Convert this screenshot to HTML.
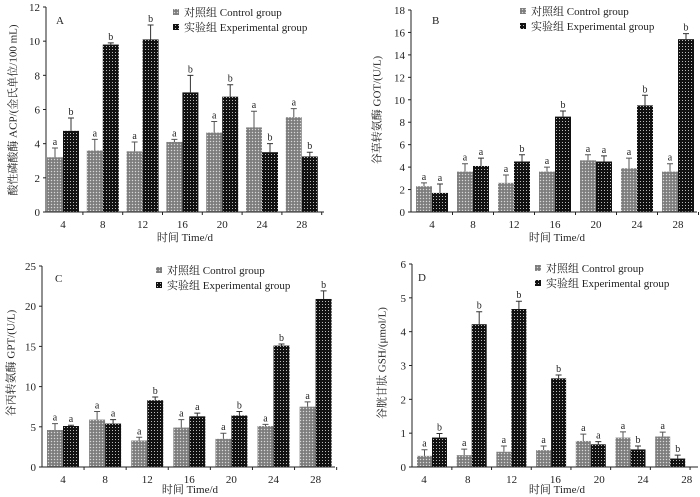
<!DOCTYPE html>
<html><head><meta charset="utf-8"><style>
body{margin:0;background:#fff}
svg{display:block}
text{font-family:"Liberation Serif","Noto Serif CJK SC",serif;fill:#222}
</style></head><body>
<svg id="c" width="700" height="497">
<defs>
<pattern id="pc" width="3" height="3" patternUnits="userSpaceOnUse"><rect width="3" height="3" fill="#8a8a8a"/><rect x="0" y="0" width="1" height="1" fill="#d8d8d8"/><rect x="1.5" y="1.5" width="1" height="1" fill="#555"/></pattern>
<pattern id="pe" width="3" height="3" patternUnits="userSpaceOnUse"><rect width="3" height="3" fill="#111"/><rect x="1" y="1" width="1" height="1" fill="#bbb"/></pattern>
</defs>
</svg>
<script>
const categories=["4","8","12","16","20","24","28"];
const aCtrl=[3.2,3.6,3.55,4.1,4.65,4.95,5.55];
const aCtrlErr=[0.55,0.65,0.55,0.15,0.65,0.95,0.5];
const aExp=[4.75,9.8,10.1,7.0,6.75,3.5,3.25];
const aExpErr=[0.75,0.1,0.85,1.0,0.7,0.5,0.25];
const aExpSig=["b","b","b","b","b","b","b"];
const bCtrl=[2.3,3.6,2.6,3.6,4.6,3.9,3.6];
const bCtrlErr=[0.3,0.7,0.7,0.4,0.5,0.9,0.7];
const bExp=[1.7,4.1,4.5,8.5,4.5,9.5,15.4];
const bExpErr=[0.8,0.7,0.6,0.5,0.5,0.9,0.5];
const bExpSig=["a","a","b","b","a","b","b"];
const cCtrl=[4.6,5.9,3.3,4.9,3.5,5.1,7.5];
const cCtrlErr=[0.8,1.0,0.4,1.0,0.7,0.2,0.6];
const cExp=[5.1,5.4,8.3,6.3,6.4,15.1,20.9];
const cExpErr=[0.1,0.5,0.4,0.4,0.5,0.2,1.0];
const cExpSig=["a","a","b","a","b","b","b"];
const dCtrl=[0.33,0.35,0.45,0.5,0.77,0.87,0.9];
const dCtrlErr=[0.18,0.18,0.17,0.12,0.2,0.17,0.13];
const dExp=[0.87,4.22,4.67,2.62,0.67,0.52,0.25];
const dExpErr=[0.12,0.37,0.23,0.1,0.08,0.1,0.1];
const dExpSig=["b","b","b","b","a","b","b"];
const aTicks=[0,2,4,6,8,10,12];
const bTicks=[0,2,4,6,8,10,12,14,16,18];
const cTicks=[0,5,10,15,20,25];
const dTicks=[0,1,2,3,4,5,6];

const svg=document.getElementById('c');
const NS='http://www.w3.org/2000/svg';
function mk(tag,at,parent,txt){const e=document.createElementNS(NS,tag);for(const k in at)e.setAttribute(k,at[k]);if(txt!==undefined)e.textContent=txt;(parent||svg).appendChild(e);return e;}

const panels=[
 {id:'a',L:'A',ctrl:aCtrl,ce:aCtrlErr,exp:aExp,ee:aExpErr,sig:aExpSig,ticks:aTicks,x0:46,x1:324,yTop:7,yBot:212,c0:63,step:39.8,lab0:63,labStep:39.8,bw:16,ytitle:'酸性磷酸酶 ACP/(金氏单位/100 mL)',tx:14,ty:110,lgx:176,lgy:12,letx:56,lety:24,xlx:185,xly:241},
 {id:'b',L:'B',ctrl:bCtrl,ce:bCtrlErr,exp:bExp,ee:bExpErr,sig:bExpSig,ticks:bTicks,x0:411,x1:697,yTop:10,yBot:212,c0:432,step:41,lab0:432,labStep:41,bw:16,ytitle:'谷草转氨酶 GOT/(U/L)',tx:378,ty:110,lgx:523,lgy:11,letx:432,lety:24,xlx:557,xly:241},
 {id:'c',L:'C',ctrl:cCtrl,ce:cCtrlErr,exp:cExp,ee:cExpErr,sig:cExpSig,ticks:cTicks,x0:42,x1:335,yTop:266,yBot:467,c0:63,step:42.1,lab0:63,labStep:42.1,bw:16,ytitle:'谷丙转氨酶 GPT/(U/L)',tx:12,ty:363,lgx:159,lgy:270,letx:55,lety:282,xlx:190,xly:493},
 {id:'d',L:'D',ctrl:dCtrl,ce:dCtrlErr,exp:dExp,ee:dExpErr,sig:dExpSig,ticks:dTicks,x0:412,x1:698,yTop:264,yBot:467,c0:432,step:39.7,lab0:424,labStep:43.8,bw:15,ytitle:'谷胱甘肽 GSH/(μmol/L)',tx:383,ty:363,lgx:538,lgy:268,letx:418,lety:281,xlx:557,xly:493}
];

panels.forEach(p=>{
 const g=mk('g',{});
 
 
 const max=p.ticks[p.ticks.length-1];
 const y=v=>p.yBot-(v/max)*(p.yBot-p.yTop);
 const cx=i=>p.c0+i*p.step;
 // bars
 categories.forEach((c,i)=>{
  [[p.ctrl,p.ce,'url(#pc)',-1,null],[p.exp,p.ee,'url(#pe)',1,p.sig]].forEach(([vals,errs,fill,side,sig],k)=>{
   const v=vals[i],e=errs[i];
   const bx=side<0?cx(i)-p.bw:cx(i);
   const r=mk('rect',{x:bx,y:y(v),width:p.bw,height:p.yBot-y(v),fill:fill},g);
   
   
   const mx=bx+p.bw/2;
   const eb=mk('path',{d:`M${mx} ${y(v)}V${y(v+e)}M${mx-3} ${y(v+e)}H${mx+3}`,stroke:k?'#333':'#555','stroke-width':1,fill:'none'},g);
   
   
   const t=mk('text',{x:mx,y:y(v+e)-3,'text-anchor':'middle','font-size':10},g,k?sig[i]:'a');
   
   
  });
  const tl=mk('text',{x:p.lab0+i*p.labStep,y:p.yBot+16,'text-anchor':'middle','font-size':11},g,c);
  
  
  mk('line',{x1:cx(i)+p.step/2,x2:cx(i)+p.step/2,y1:p.yBot,y2:p.yBot+3,stroke:'#222'},g);
 });
 // axes
 const ax=mk('path',{d:`M${p.x0} ${p.yTop}V${p.yBot}H${p.x1}`,stroke:'#222','stroke-width':1,fill:'none'},g);
 
 
 p.ticks.forEach(t=>{
  mk('line',{x1:p.x0-3,x2:p.x0,y1:y(t),y2:y(t),stroke:'#222'},g);
  const tt=mk('text',{x:p.x0-6,y:y(t)+4,'text-anchor':'end','font-size':11},g,t);
  
  
 });
 const yt=mk('text',{x:p.tx,y:p.ty,'text-anchor':'middle','font-size':11,transform:`rotate(-90 ${p.tx} ${p.ty})`,'dominant-baseline':'middle'},g,p.ytitle);
 
 
 const xt=mk('text',{x:p.xlx,y:p.xly,'text-anchor':'middle','font-size':11},g,'时间 Time/d');
 
 
 const pl=mk('text',{x:p.letx,y:p.lety,'font-size':11},g,p.L);
 
 
 [['url(#pc)','对照组 Control group'],['url(#pe)','实验组 Experimental group']].forEach(([f,label],k)=>{
  const lg=mk('g',{},g);
  
  
  mk('rect',{x:p.lgx-3,y:p.lgy+k*15-3,width:6,height:6,fill:f},lg);
  mk('text',{x:p.lgx+8,y:p.lgy+k*15+4,'font-size':11},lg,label);
 });
});
</script>
</body></html>
